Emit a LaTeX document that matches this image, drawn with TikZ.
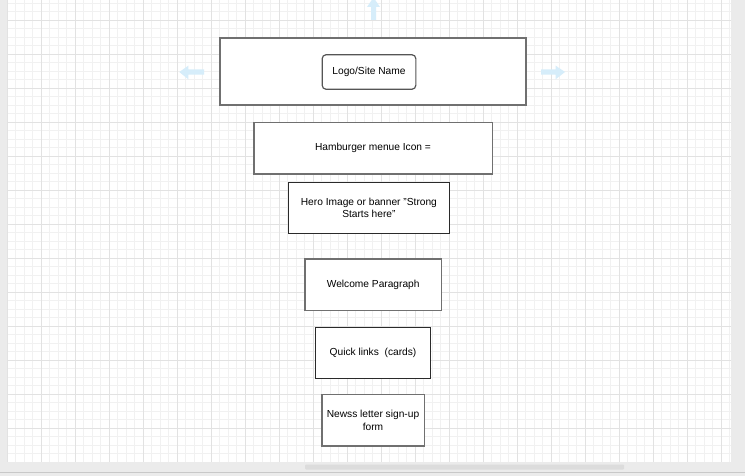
\documentclass[tikz,border=0pt]{standalone}
\usepackage{fontspec}
\setmainfont{Liberation Sans}
\definecolor{majorgrid}{HTML}{E2E2E2}
\definecolor{minorgrid}{HTML}{F1F1F1}
\definecolor{panel}{HTML}{EBEBEB}
\definecolor{scroll}{HTML}{DCDCDC}
\definecolor{hint}{HTML}{D6EDFA}
\definecolor{boxgray}{HTML}{707070}
\definecolor{boxdark}{HTML}{2A2A2A}
\tikzset{
  every node/.style={font=\fontsize{10.2}{12.4}\selectfont, inner sep=0pt, align=center},
  graybox/.style={draw=boxgray, line width=1.6pt, fill=white, rectangle},
  darkbox/.style={draw=boxdark, line width=0.9pt, fill=white, rectangle},
  logobox/.style={draw=boxdark!80, line width=1.2pt, fill=white, rectangle, rounded corners=4pt},
  hintarrow/.style={fill=hint, draw=none}
}
\begin{document}
\begin{tikzpicture}[x=1pt,y=-1pt]
\useasboundingbox (0,0) rectangle (745,476);
\fill[white] (0,0) rectangle (745,476);
% grid
\begin{scope}
\clip (7,0) rectangle (731,462);
\foreach \i in {-2,...,86} {
  \draw[minorgrid, line width=0.8pt] ({7+8.5*\i},0) -- ({7+8.5*\i},462);
}
\foreach \j in {-3,...,54} {
  \draw[minorgrid, line width=0.8pt] (7,{20+8.5*\j}) -- (731,{20+8.5*\j});
}
\foreach \i in {0,...,22} {
  \draw[majorgrid, line width=0.9pt] ({7+34*\i},0) -- ({7+34*\i},462);
}
\foreach \j in {-1,...,13} {
  \draw[majorgrid, line width=0.9pt] (7,{20+34*\j}) -- (731,{20+34*\j});
}
\end{scope}
% panels
\fill[panel] (0,0) rectangle (7,476);
\fill[panel] (731,0) rectangle (745,476);
\fill[panel] (0,462) rectangle (745,476);
\draw[panel!85!black, line width=0.5pt] (0,472) -- (745,472);
\fill[scroll, rounded corners=1pt] (305,464.5) rectangle (624,469.5);
% hint arrows
\fill[hintarrow] (371,20) -- (376,20) -- (376,7) -- (380,7) -- (373.5,-2.5) -- (367,7) -- (371,7) -- cycle;
\fill[hintarrow] (204,69.3) -- (204,74.7) -- (188.3,74.7) -- (188.3,79.3) -- (179.3,72) -- (188.3,65.7) -- (188.3,69.3) -- cycle;
\fill[hintarrow] (541,69.3) -- (541,74.7) -- (555.7,74.7) -- (555.7,79.3) -- (565,72) -- (555.7,65.7) -- (555.7,69.3) -- cycle;
% boxes
\node[graybox, minimum width=306pt, minimum height=67pt] (header) at (373,71.5) {};
\node[logobox, minimum width=93.7pt, minimum height=34.6pt] (logo) at (369,72) {Logo/Site Name};
\node[graybox, minimum width=238.6pt, minimum height=51.3pt] (menu) at (373,148.3) {Hamburger menue Icon =};
\node[darkbox, minimum width=161.7pt, minimum height=51.4pt] (hero) at (368.9,208) {Hero Image or banner "Strong\\Starts here"};
\node[graybox, minimum width=136.3pt, minimum height=51.3pt] (welcome) at (373.2,284.7) {Welcome Paragraph};
\node[darkbox, minimum width=114.6pt, minimum height=51pt] (quick) at (373,352.5) {Quick links~ (cards)};
\node[graybox, minimum width=102.6pt, minimum height=51.3pt] (news) at (373,420.3) {Newss letter sign-up\\form};
\end{tikzpicture}
\end{document}
